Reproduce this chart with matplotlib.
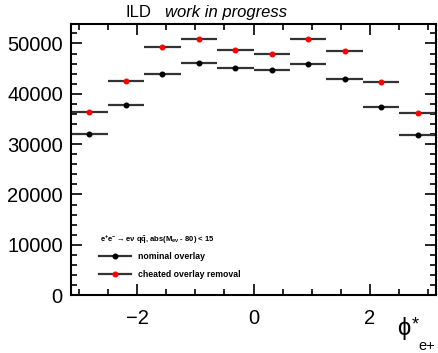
import numpy as np
import matplotlib.pyplot as plt
from matplotlib.lines import Line2D
from matplotlib.ticker import MultipleLocator

plt.rcParams['font.family'] = ['Liberation Sans', 'DejaVu Sans']
plt.rcParams['mathtext.fontset'] = 'custom'
plt.rcParams['mathtext.rm'] = 'Liberation Sans'
plt.rcParams['mathtext.it'] = 'Liberation Sans:italic'
plt.rcParams['mathtext.bf'] = 'Liberation Sans:bold'

# phi* of the positron, 10 bins over [-pi, pi]
bin_edges = np.linspace(-np.pi, np.pi, 11)
nominal = [32080, 37690, 43890, 46200, 45080, 44690, 46010, 42900, 37430, 31880]
cheated = [36440, 42510, 49300, 50890, 48710, 47850, 50830, 48510, 42310, 36170]

centers = 0.5 * (bin_edges[:-1] + bin_edges[1:])
half_width = 0.5 * np.diff(bin_edges)

fig = plt.figure(figsize=(4.39, 3.53), dpi=100)
ax = fig.add_axes([0.162, 0.164, 0.831, 0.768])

ax.errorbar(centers, nominal, xerr=half_width, fmt='o', color='black', ms=3.3,
            ecolor='#333333', elinewidth=1.6, capsize=0)
ax.errorbar(centers, cheated, xerr=half_width, fmt='o', color='red', ms=3.3,
            ecolor='#333333', elinewidth=1.6, capsize=0)

ax.set_xlim(-np.pi, np.pi)
ax.set_ylim(0, 53860)

ax.xaxis.set_major_locator(MultipleLocator(2))
ax.xaxis.set_minor_locator(MultipleLocator(0.5))
ax.yaxis.set_major_locator(MultipleLocator(10000))
ax.yaxis.set_minor_locator(MultipleLocator(2000))
ax.tick_params(which='both', direction='in', top=True, right=True, width=1.2)
ax.tick_params(which='major', length=8, labelsize=14.5, pad=6)
ax.tick_params(which='minor', length=4)
for s in ax.spines.values():
    s.set_linewidth(1.5)

ax.set_xticks([-2, 0, 2])
ax.set_xticklabels([])
for x in [-2, 0, 2]:
    ax.text(x, -0.05, '\u2212%d' % abs(x) if x < 0 else '%d' % x,
            transform=ax.get_xaxis_transform(), ha='center', va='top', fontsize=14.5)

# axis title: phi* with the e+ subscript below
fig.text(0.905, 0.068, '\u03d5', fontsize=17, ha='left', va='center')
fig.text(0.937, 0.078, '*', fontsize=13, ha='left', va='center')
fig.text(0.972, 0.02, 'e+', fontsize=10.5, ha='center', va='center')

fig.text(0.285, 0.965, 'ILD', fontsize=12, ha='left', va='center')
fig.text(0.375, 0.965, 'work in progress', fontsize=12, style='italic',
         ha='left', va='center')

ax.text(0.08, 0.205,
        r'$\mathbf{e^{+}e^{-}\rightarrow e\nu\ q\bar{q}}$, abs(M$_{\mathbf{e\nu}}$ - 80) < 15',
        transform=ax.transAxes, fontsize=5.5, fontweight='bold', ha='left', va='center')

handles = [
    Line2D([], [], color='#333333', lw=1.6, marker='o', ms=3.3,
           markerfacecolor='black', markeredgecolor='black'),
    Line2D([], [], color='#333333', lw=1.6, marker='o', ms=3.3,
           markerfacecolor='red', markeredgecolor='red'),
]
ax.legend(handles, ['nominal overlay', 'cheated overlay removal'],
          loc='lower left', bbox_to_anchor=(0.055, 0.03), frameon=False,
          prop={'size': 6.3, 'weight': 'bold'}, handlelength=3.6,
          handletextpad=0.8, labelspacing=1.0)

fig.savefig('out.png', dpi=100)
